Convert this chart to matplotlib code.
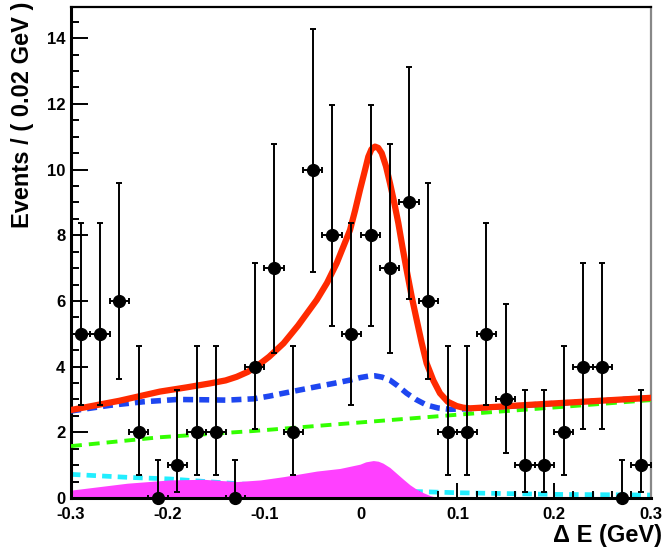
import matplotlib
matplotlib.use("Agg")
import matplotlib.pyplot as plt
import numpy as np

plt.rcParams["font.family"] = ["Liberation Sans", "DejaVu Sans"]
plt.rcParams["font.weight"] = "bold"
plt.rcParams["axes.unicode_minus"] = False

# binned data: 30 bins of 0.02 GeV
bin_centers = [-0.29, -0.27, -0.25, -0.23, -0.21, -0.19, -0.17, -0.15, -0.13, -0.11,
               -0.09, -0.07, -0.05, -0.03, -0.01, 0.01, 0.03, 0.05, 0.07, 0.09,
               0.11, 0.13, 0.15, 0.17, 0.19, 0.21, 0.23, 0.25, 0.27, 0.29]
events = [5, 5, 6, 2, 0, 1, 2, 2, 0, 4,
          7, 2, 10, 8, 5, 8, 7, 9, 6, 2,
          2, 5, 3, 1, 1, 2, 4, 4, 0, 1]
err_low = [2.16, 2.16, 2.38, 1.29, 0.0, 0.83, 1.29, 1.29, 0.0, 1.91,
           2.58, 1.29, 3.11, 2.77, 2.16, 2.77, 2.58, 2.94, 2.38, 1.29,
           1.29, 2.16, 1.63, 0.83, 0.83, 1.29, 1.91, 1.91, 0.0, 0.83]
err_high = [3.38, 3.38, 3.58, 2.64, 1.15, 2.30, 2.64, 2.64, 1.15, 3.16,
            3.77, 2.64, 4.27, 3.97, 3.38, 3.97, 3.77, 4.12, 3.58, 2.64,
            2.64, 3.38, 2.92, 2.30, 2.30, 2.64, 3.16, 3.16, 1.15, 2.30]

# total fit
total_x = [-0.30, -0.25, -0.208, -0.18, -0.156, -0.14, -0.1285, -0.117, -0.106, -0.095,
           -0.080, -0.065, -0.0457, -0.035, -0.025, -0.0112, -0.006, -0.0009, 0.004,
           0.0077, 0.011, 0.0146, 0.018, 0.0216, 0.026, 0.0302, 0.0345, 0.0388, 0.043,
           0.0474, 0.0525, 0.0578, 0.063, 0.0681, 0.075, 0.0819, 0.09, 0.0992, 0.106,
           0.113, 0.20, 0.30]
total_y = [2.68, 2.96, 3.24, 3.37, 3.49, 3.58, 3.69, 3.84, 4.05, 4.30,
           4.71, 5.25, 6.03, 6.55, 7.15, 8.16, 8.75, 9.38, 9.95,
           10.39, 10.62, 10.70, 10.66, 10.50, 10.10, 9.58, 9.00, 8.37, 7.65,
           6.94, 6.15, 5.42, 4.72, 4.10, 3.58, 3.19, 2.93, 2.80, 2.75,
           2.73, 2.88, 3.05]

# total background
bkg_x = [-0.30, -0.26, -0.225, -0.19, -0.16, -0.139, -0.111, -0.095, -0.080, -0.063,
         -0.0457, -0.028, -0.0112, 0.0, 0.008, 0.0146, 0.022, 0.030, 0.038, 0.0474,
         0.057, 0.068, 0.08, 0.092, 0.113, 0.20, 0.30]
bkg_y = [2.65, 2.82, 2.93, 3.00, 2.99, 2.98, 3.02, 3.10, 3.19, 3.29,
         3.39, 3.49, 3.59, 3.67, 3.71, 3.72, 3.68, 3.59, 3.42, 3.19,
         3.00, 2.83, 2.74, 2.70, 2.72, 2.88, 3.05]

# continuum
cont_x = [-0.30, -0.208, -0.111, -0.0009, 0.106, 0.175, 0.30]
cont_y = [1.58, 1.85, 2.04, 2.30, 2.55, 2.70, 2.98]

# combinatoric component
comb_x = [-0.30, -0.242, -0.198, -0.15, -0.10, -0.05, 0.0, 0.05, 0.065, 0.10, 0.20, 0.30]
comb_y = [0.72, 0.63, 0.58, 0.48, 0.38, 0.30, 0.24, 0.20, 0.19, 0.16, 0.11, 0.09]

# peaking component (filled)
peak_x = [-0.30, -0.242, -0.198, -0.163, -0.1285, -0.104, -0.080, -0.0457, -0.0216,
          -0.0009, 0.005, 0.0129, 0.018, 0.023, 0.030, 0.037, 0.044, 0.0509, 0.058,
          0.0647, 0.072, 0.0785, 0.085, 0.30]
peak_y = [0.24, 0.45, 0.55, 0.57, 0.50, 0.55, 0.65, 0.82, 0.90,
          1.03, 1.10, 1.14, 1.12, 1.06, 0.93, 0.75, 0.57, 0.40, 0.26,
          0.16, 0.07, 0.02, 0.0, 0.0]

x_ticks = [-0.3, -0.2, -0.1, 0.0, 0.1, 0.2, 0.3]
x_tick_labels = ["-0.3", "-0.2", "-0.1", "0", "0.1", "0.2", "0.3"]
y_ticks = [0, 2, 4, 6, 8, 10, 12, 14]

fig = plt.figure(figsize=(6.63, 5.53), dpi=100)
ax = fig.add_axes([71 / 663, 55 / 553, 579.7 / 663, 491 / 553])

ax.plot(comb_x, comb_y, color="#22eeff", lw=3.4, ls=(0, (2.0, 1.3)), zorder=1)
ax.fill_between(peak_x, 0, peak_y, color="#ff40ff", lw=0, zorder=2)
ax.plot(cont_x, cont_y, color="#33ff00", lw=2.8, ls=(0, (2.8, 1.8)), zorder=3)
ax.plot(bkg_x, bkg_y, color="#1e46f0", lw=4.0, ls=(0, (1.8, 1.1)), zorder=4)
ax.plot(total_x, total_y, color="#ff2a00", lw=4.5, zorder=5, solid_joinstyle="round")

x = np.array(bin_centers)
y = np.array(events)
ax.errorbar(x, y, yerr=[err_low, err_high], xerr=0.01, fmt="none",
            ecolor="black", elinewidth=1.4, capsize=2.5, capthick=1.4, zorder=6)
ax.plot(x, y, "o", color="black", ms=8.5, zorder=7, clip_on=False)

ax.set_xlim(-0.3, 0.3)
ax.set_ylim(0, 14.95)

ax.set_xticks(x_ticks)
ax.set_xticklabels(x_tick_labels)
ax.set_xticks(np.arange(-0.3, 0.3001, 0.02), minor=True)
ax.set_yticks(y_ticks)
ax.set_yticks(np.arange(0, 14.9, 0.5), minor=True)

ax.tick_params(axis="both", which="both", direction="in", width=1.4,
               labelsize=12, top=False, right=False)
ax.tick_params(axis="x", which="major", length=11, pad=6.5)
ax.tick_params(axis="x", which="minor", length=5)
ax.tick_params(axis="y", which="major", length=12.5, pad=4)
ax.tick_params(axis="y", which="minor", length=6)
for lab in ax.get_xticklabels() + ax.get_yticklabels():
    lab.set_fontweight("bold")

ax.spines["left"].set_linewidth(2.2)
ax.spines["bottom"].set_linewidth(2.2)
ax.spines["top"].set_linewidth(1.6)
ax.spines["right"].set_linewidth(1.6)
ax.spines["right"].set_color("#888888")

ax.set_ylabel("Events / ( 0.02 GeV )", fontsize=17, fontweight="bold", loc="top")
ax.yaxis.set_label_coords(-0.064, 1.01)
ax.set_xlabel("\u0394 E (GeV)", fontsize=17, fontweight="bold", loc="right")
ax.xaxis.set_label_coords(1.02, -0.053)

fig.savefig("out.png", dpi=100)
